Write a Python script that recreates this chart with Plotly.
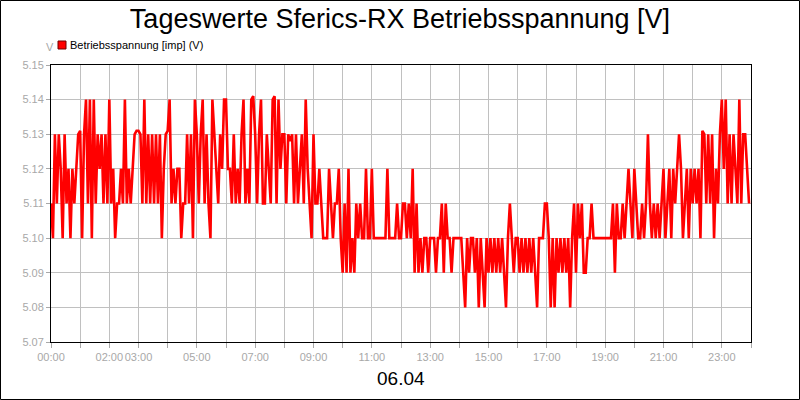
import numpy as np
import plotly.graph_objects as go

# Betriebsspannung in V, one value every 4 minutes (15 per hour), 06.04
volts_00_06 = [
    5.11, 5.10, 5.13, 5.11, 5.13, 5.12, 5.10, 5.13, 5.11, 5.12, 5.10, 5.12, 5.11, 5.12, 5.13,
    5.131, 5.10, 5.13, 5.14, 5.11, 5.14, 5.10, 5.14, 5.11, 5.13, 5.12, 5.13, 5.11, 5.13, 5.11,
    5.14, 5.11, 5.12, 5.10, 5.11, 5.11, 5.12, 5.11, 5.14, 5.11, 5.12, 5.11, 5.12, 5.13, 5.131,
    5.131, 5.13, 5.11, 5.14, 5.11, 5.13, 5.11, 5.13, 5.11, 5.13, 5.11, 5.13, 5.10, 5.12, 5.13,
    5.131, 5.14, 5.11, 5.12, 5.11, 5.12, 5.12, 5.10, 5.11, 5.11, 5.13, 5.11, 5.13, 5.10, 5.14,
    5.13, 5.11, 5.13, 5.14, 5.11, 5.13, 5.11, 5.10, 5.14, 5.13, 5.12, 5.11, 5.13, 5.12, 5.14,
]
volts_06_12 = [
    5.14, 5.12, 5.12, 5.11, 5.13, 5.11, 5.12, 5.11, 5.13, 5.14, 5.11, 5.12, 5.11, 5.14, 5.141,
    5.13, 5.11, 5.13, 5.14, 5.11, 5.11, 5.13, 5.12, 5.11, 5.14, 5.141, 5.11, 5.14, 5.12, 5.13,
    5.13, 5.11, 5.13, 5.128, 5.13, 5.11, 5.13, 5.11, 5.12, 5.13, 5.11, 5.14, 5.12, 5.11, 5.10,
    5.13, 5.11, 5.11, 5.12, 5.11, 5.10, 5.10, 5.10, 5.12, 5.11, 5.10, 5.11, 5.11, 5.12, 5.10,
    5.09, 5.11, 5.09, 5.12, 5.09, 5.10, 5.09, 5.11, 5.10, 5.11, 5.10, 5.10, 5.12, 5.10, 5.10,
    5.12, 5.10, 5.10, 5.10, 5.10, 5.10, 5.10, 5.10, 5.12, 5.10, 5.10, 5.10, 5.10, 5.11, 5.10,
]
volts_12_18 = [
    5.10, 5.11, 5.11, 5.10, 5.11, 5.10, 5.12, 5.09, 5.11, 5.09, 5.10, 5.09, 5.10, 5.10, 5.09,
    5.10, 5.10, 5.10, 5.09, 5.10, 5.10, 5.11, 5.09, 5.11, 5.10, 5.10, 5.09, 5.10, 5.10, 5.10,
    5.10, 5.10, 5.09, 5.08, 5.10, 5.09, 5.10, 5.10, 5.09, 5.10, 5.08, 5.10, 5.09, 5.08, 5.10,
    5.09, 5.10, 5.09, 5.10, 5.09, 5.10, 5.09, 5.10, 5.09, 5.08, 5.10, 5.11, 5.10, 5.09, 5.10,
    5.10, 5.09, 5.10, 5.09, 5.10, 5.09, 5.10, 5.09, 5.10, 5.09, 5.08, 5.10, 5.10, 5.10, 5.11,
    5.11, 5.10, 5.08, 5.10, 5.08, 5.10, 5.09, 5.10, 5.09, 5.10, 5.09, 5.10, 5.08, 5.10, 5.11,
]
volts_18_24 = [
    5.09, 5.11, 5.10, 5.11, 5.09, 5.09, 5.10, 5.10, 5.11, 5.10, 5.10, 5.10, 5.10, 5.10, 5.10,
    5.10, 5.10, 5.10, 5.10, 5.11, 5.09, 5.11, 5.10, 5.10, 5.11, 5.10, 5.11, 5.12, 5.11, 5.10,
    5.12, 5.11, 5.10, 5.10, 5.11, 5.10, 5.11, 5.13, 5.11, 5.10, 5.11, 5.10, 5.11, 5.10, 5.11,
    5.12, 5.10, 5.11, 5.12, 5.10, 5.12, 5.11, 5.12, 5.13, 5.12, 5.10, 5.11, 5.12, 5.10, 5.12,
    5.11, 5.12, 5.11, 5.12, 5.10, 5.131, 5.13, 5.11, 5.13, 5.11, 5.13, 5.10, 5.12, 5.11, 5.13,
    5.14, 5.12, 5.14, 5.11, 5.13, 5.11, 5.13, 5.12, 5.11, 5.14, 5.11, 5.13, 5.13, 5.12, 5.11,
]

hour_ticks = list(range(0, 25))
hour_labels = ["00:00", "", "02:00", "03:00", "", "05:00", "", "07:00", "", "09:00", "",
               "11:00", "", "13:00", "", "15:00", "", "17:00", "", "19:00", "", "21:00",
               "", "23:00", ""]
y_ticks = [5.07, 5.08, 5.09, 5.10, 5.11, 5.12, 5.13, 5.14, 5.15]
series_name = "Betriebsspannung [imp] (V)"

volts = volts_00_06 + volts_06_12 + volts_12_18 + volts_18_24
hours = np.arange(len(volts)) * 4 / 60

# plot area in pixels: x 51..751, y 65..342
W, H = 800, 400
L, R, T, B = 51, 751, 65, 342


def px(x):
    return (x - L) / (R - L)


def py(y):
    return (B - y) / (B - T)


grey = "#a8a8a8"
fig = go.Figure()
fig.add_trace(go.Scatter(
    x=hours, y=volts, mode="lines",
    line=dict(color="#ff0000", width=2.6),
    showlegend=False, hoverinfo="skip"
))

fig.update_layout(
    width=W, height=H,
    margin=dict(l=L, r=W - R, t=T, b=H - B),
    paper_bgcolor="white", plot_bgcolor="white",
    showlegend=False,
    font=dict(family="Liberation Sans, Arial, sans-serif", size=11, color=grey),
    title=dict(text="Tageswerte Sferics-RX Betriebsspannung [V]", x=0.5, xanchor="center",
               y=1 - 19 / H, yanchor="middle", font=dict(size=27, color="black")),
    xaxis=dict(
        range=[0, 24], tickvals=hour_ticks, ticktext=hour_labels, tickangle=0,
        showgrid=True, gridcolor="#c0c0c0", gridwidth=1,
        showline=True, linecolor="black", linewidth=1, mirror=True,
        ticks="outside", ticklen=5, tickcolor=grey,
        tickfont=dict(size=11, color=grey), automargin=False,
        zeroline=False,
    ),
    yaxis=dict(
        range=[5.07, 5.15], tickvals=y_ticks, tickformat=".2f",
        showgrid=True, gridcolor="#c0c0c0", gridwidth=1,
        showline=True, linecolor="black", linewidth=1, mirror=True,
        ticks="outside", ticklen=4, tickcolor=grey,
        tickfont=dict(size=11, color=grey), automargin=False,
        zeroline=False,
    ),
    annotations=[
        dict(text="V", xref="paper", yref="paper", x=px(44), y=py(47),
             yanchor="middle", showarrow=False, font=dict(size=11, color=grey)),
        dict(text=series_name, xref="paper", yref="paper", x=px(68), y=py(45),
             xanchor="left", yanchor="middle", showarrow=False,
             font=dict(size=11, color="black")),
        dict(text="06.04", xref="paper", yref="paper", x=px(401), y=py(378),
             yanchor="middle", showarrow=False, font=dict(size=19, color="black")),
    ],
    shapes=[
        dict(type="rect", xref="paper", yref="paper",
             x0=px(0.5), x1=px(799.5), y0=py(399.5), y1=py(0.5),
             line=dict(color="black", width=1)),
        dict(type="rect", xref="paper", yref="paper",
             x0=px(58), x1=px(66), y0=py(49), y1=py(41),
             fillcolor="#ff0000", line=dict(color="#700000", width=1)),
    ],
)

# drop the default page margin so the figure sits at the window corner
fig.write_html("out.html", config={"displayModeBar": False},
               post_script="document.body.style.margin='0';")
